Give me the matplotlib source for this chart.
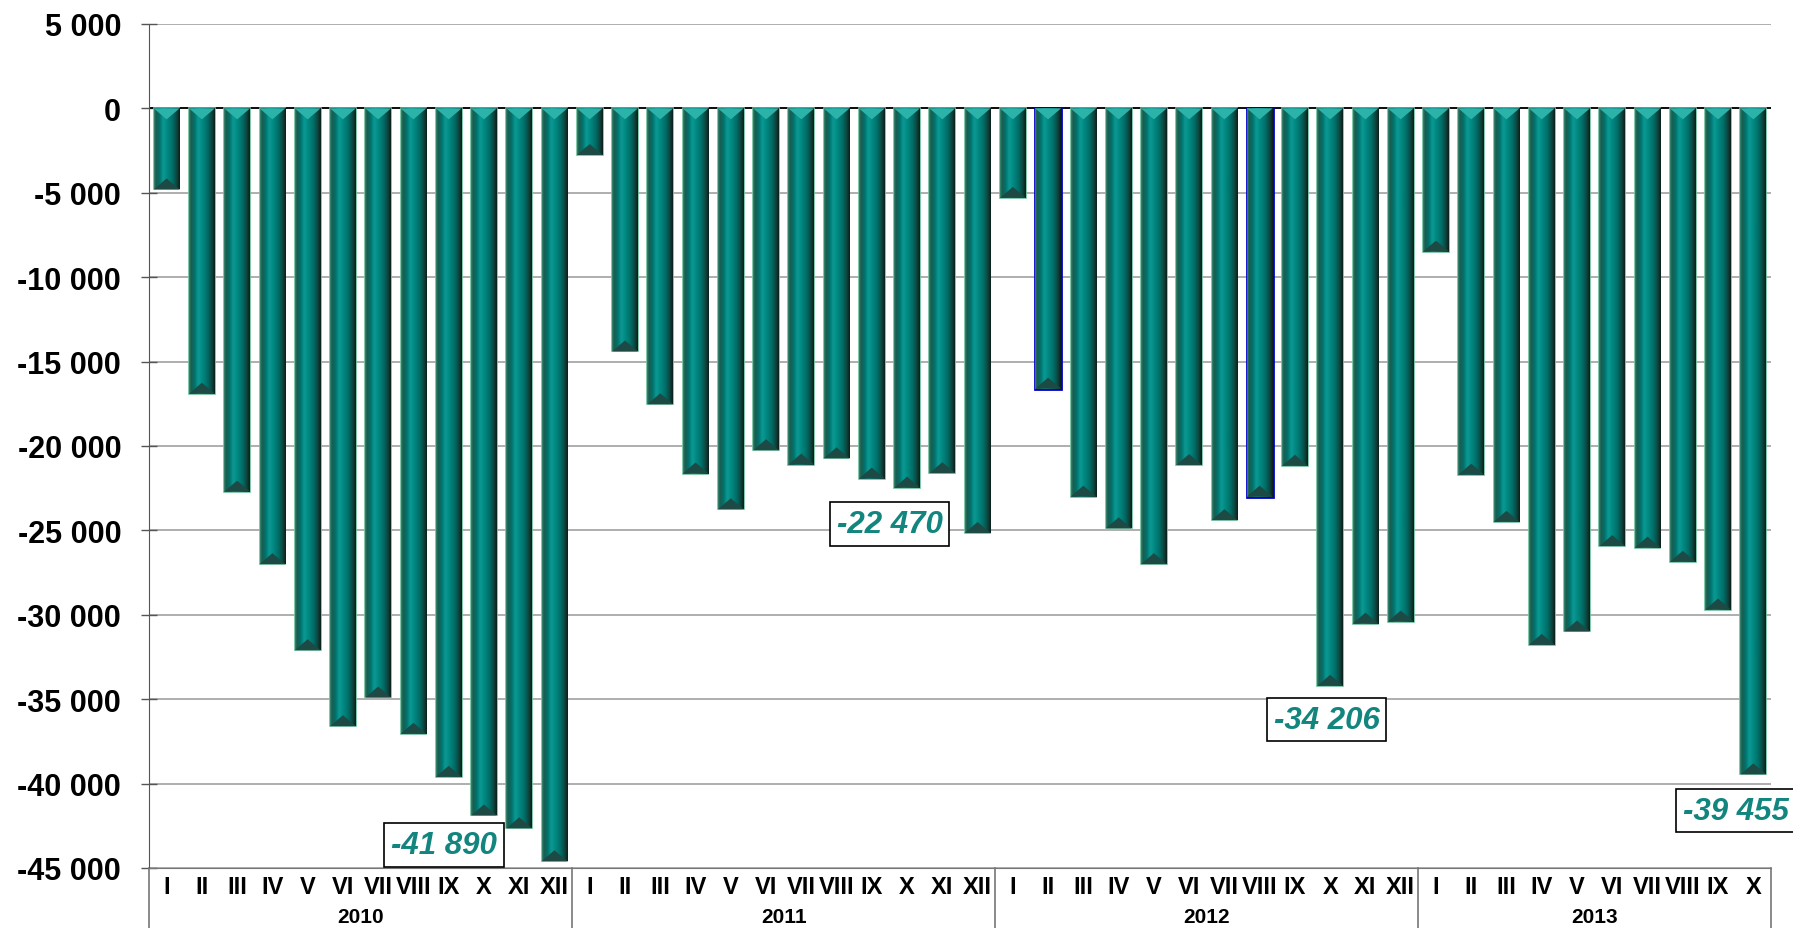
import numpy as np
import matplotlib
matplotlib.use('Agg')
import matplotlib.pyplot as plt
import matplotlib.transforms as mtransforms
from matplotlib.colors import LinearSegmentedColormap

plt.rcParams['font.family'] = ['Liberation Sans', 'DejaVu Sans']

# Dane
years = ['2010', '2011', '2012', '2013']
months = ['I', 'II', 'III', 'IV', 'V', 'VI', 'VII', 'VIII', 'IX', 'X', 'XI', 'XII']
vals_2010 = [-4800, -16900, -22700, -27000, -32100, -36600, -34900, -37050, -39600, -41890, -42650, -44600]
vals_2011 = [-2760, -14400, -17530, -21630, -23750, -20250, -21100, -20730, -21930, -22470, -21610, -25150]
vals_2012 = [-5300, -16600, -23000, -24880, -27000, -21130, -24390, -23000, -21170, -34206, -30520, -30400]
vals_2013 = [-8480, -21700, -24490, -31780, -30990, -25930, -26020, -26860, -29690, -39455]
year_data = [vals_2010, vals_2011, vals_2012, vals_2013]

# opisane wartosci: (indeks slupka, tekst)
callouts = [(9, '-41 890'), (21, '-22 470'), (33, '-34 206'), (45, '-39 455')]
callout_offsets = [(-1.13, -1770), (-0.5, -2170), (-0.1, -2000), (-0.5, -2140)]
blue_edge = [(2012, 'II'), (2012, 'VIII')]

values = []
tick_labels = []
edge_blue = []
for y, vals in zip(years, year_data):
    for m, v in zip(months, vals):
        values.append(v)
        tick_labels.append(m)
        edge_blue.append((int(y), m) in blue_edge)
values = np.array(values)
x = np.arange(len(values))

teal = '#12857f'
fig = plt.figure(figsize=(17.93, 9.29), dpi=100)
ax = fig.add_axes([0.0831, 0.0646, 0.9046, 0.9085])

edges = ['#0000c8' if b else '#6cbf9c' for b in edge_blue]
widths = [2.0 if b else 1.2 for b in edge_blue]
bars = ax.bar(x, values, width=0.73, color='#00807a', edgecolor=edges, linewidth=widths, zorder=3)

# gradient poziomy w slupkach (efekt 3D)
grad_cmap = LinearSegmentedColormap.from_list('bar3d', [
    (0.0, '#3f8f76'), (0.07, '#1c5a4c'), (0.22, '#00736d'), (0.36, '#0c9a94'),
    (0.52, '#008882'), (0.75, '#006761'), (0.9, '#123d36'), (1.0, '#0a1c18')])
grad = np.linspace(0, 1, 256).reshape(1, -1)
for b in bars:
    x0, y0 = b.get_x(), b.get_y()
    w, h = b.get_width(), b.get_height()
    im = ax.imshow(grad, cmap=grad_cmap, aspect='auto', extent=(x0, x0 + w, y0 + h, y0),
                   zorder=3.5, interpolation='bicubic')
    im.set_clip_path(b)
    # jasniejsza gorna krawedz i ciemniejsza dolna
    ax.fill([x0, x0 + w, x0 + w / 2], [0, 0, -650], color='#2bb3aa', zorder=3.6, lw=0)
    ax.fill([x0, x0 + w, x0 + w / 2], [h, h, h + 650], color='#1d4a44', zorder=3.6, lw=0)

ax.set_xlim(-0.5, len(values) - 0.5)
ax.set_ylim(-45000, 5000)
ax.set_yticks(np.arange(-45000, 5001, 5000))
ax.set_yticklabels([f'{v:,}'.replace(',', ' ') for v in range(-45000, 5001, 5000)],
                   fontsize=22, fontweight='bold')
ax.yaxis.grid(True, color='#a8a8a8', linewidth=1.3, zorder=0)
ax.axhline(0, color='black', linewidth=1.3, zorder=2)
ax.tick_params(axis='y', direction='inout', length=12, width=1, color='#555555', pad=14)

ax.set_xticks(x)
ax.set_xticklabels(tick_labels, fontsize=17, fontweight='bold')
ax.tick_params(axis='x', length=0, pad=5)

for s in ['top', 'right']:
    ax.spines[s].set_visible(False)
ax.spines['left'].set_color('#555555')
ax.spines['bottom'].set_color('#777777')

# podpisy lat i linie podzialu
trans = mtransforms.blended_transform_factory(ax.transData, ax.transAxes)
start = 0
for y, vals in zip(years, year_data):
    n = len(vals)
    ax.text(start + (n - 1) / 2, -0.057, y, transform=trans, ha='center', va='center',
            fontsize=15, fontweight='bold')
    start += n
bounds = np.cumsum([0] + [len(v) for v in year_data]) - 0.5
for bx in bounds:
    ax.plot([bx, bx], [0, -0.08], transform=trans, color='#777777', lw=1.2, clip_on=False)

for (i, txt), (dx, dy) in zip(callouts, callout_offsets):
    ax.text(i + dx, values[i] + dy, txt, ha='center', va='center', fontsize=22.5,
            fontweight='bold', fontstyle='italic', color=teal, zorder=6, clip_on=False,
            bbox=dict(boxstyle='square,pad=0.22', facecolor='white', edgecolor='black', linewidth=1.2))

fig.savefig('out.png', dpi=100)
